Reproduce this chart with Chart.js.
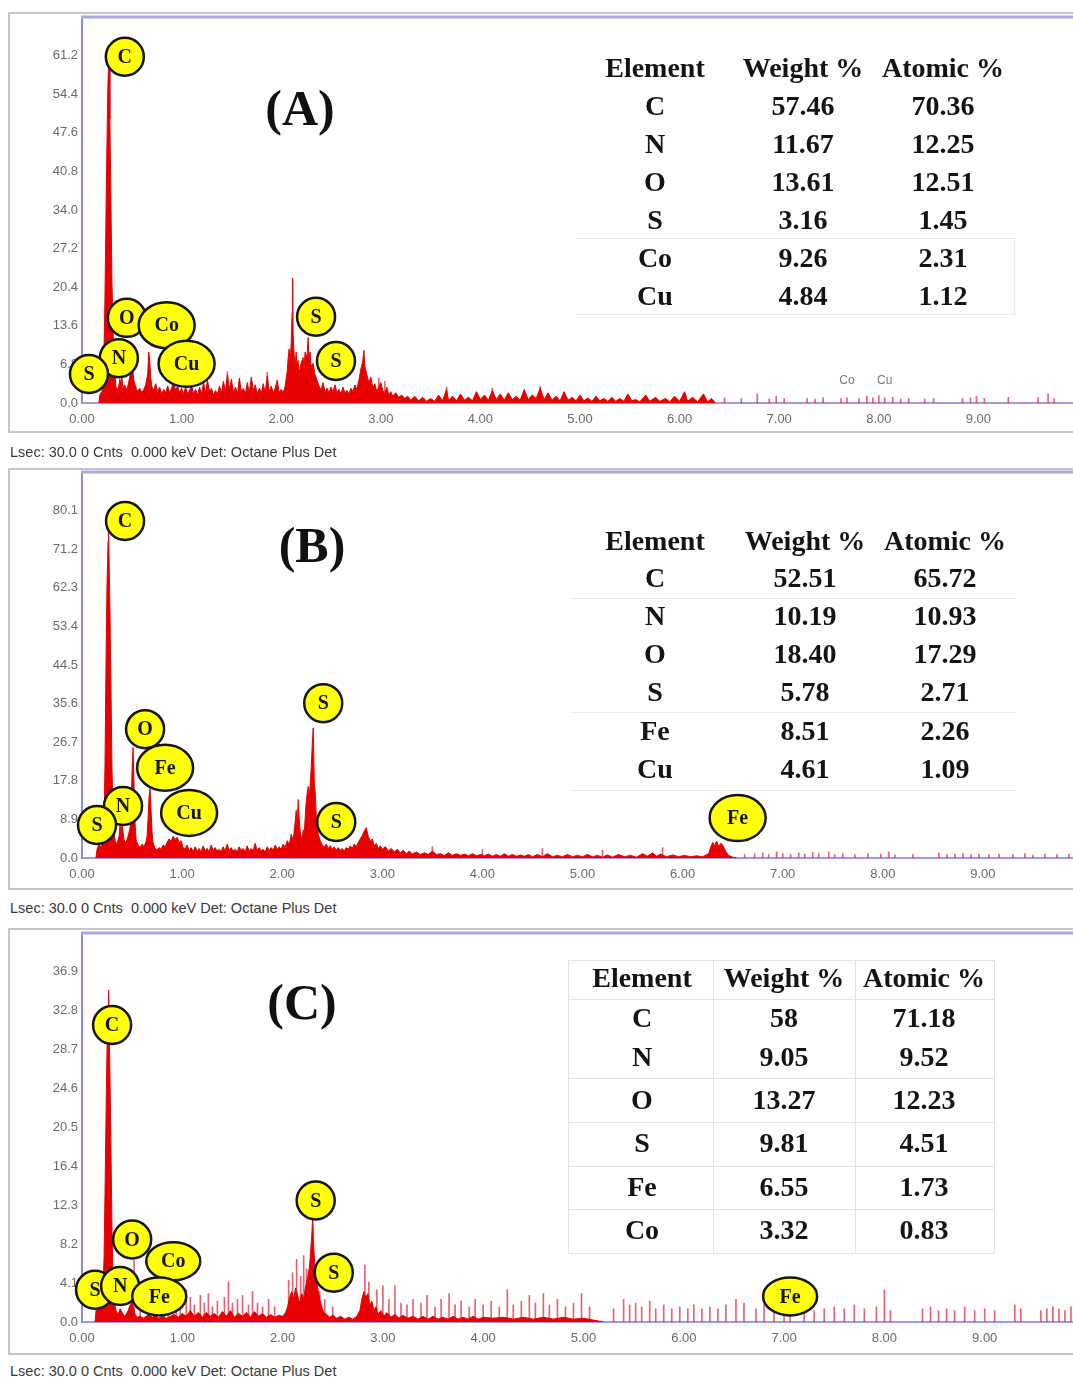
<!DOCTYPE html>
<html>
<head>
<meta charset="utf-8">
<script src="https://cdn.jsdelivr.net/npm/chart.js@4.4.0/dist/chart.umd.min.js"></script>
<style>
  html, body { margin: 0; padding: 0; background: #fff; }
  body { width: 1073px; height: 1381px; overflow: hidden; position: relative; }
  .frame { position: absolute; left: 8px; width: 1090px; border: 2px solid #c6c6c6; background: #fff; box-sizing: border-box; }
  canvas { position: absolute; left: 0; }
  .foot { position: absolute; left: 10px; font: 14.5px "Liberation Sans", Arial, sans-serif; color: #3a3a3a; white-space: pre; transform: translateY(-50%); }
  .title { position: absolute; font: bold 50px "Liberation Serif", serif; color: #111; transform: translate(-50%, -50%); }
  .cell { position: absolute; font: bold 28px "Liberation Serif", serif; color: #141414; transform: translate(-50%, -50%); white-space: nowrap; }
  .hl { position: absolute; height: 1px; background: #ececec; }
  .vl { position: absolute; width: 1px; background: #ececec; }
  .hl.c, .vl.c { background: #e2e2e2; }
</style>
</head>
<body>
<div class="frame" style="top:12px;height:421px"></div>
<div class="frame" style="top:468px;height:422px"></div>
<div class="frame" style="top:928px;height:427px"></div>
<canvas id="chartA"></canvas>
<canvas id="chartB"></canvas>
<canvas id="chartC"></canvas>
<div id="overlay"></div>
<script>
// ---- data ----
const kevTicks = [0, 1, 2, 3, 4, 5, 6, 7, 8, 9];
const countTicksA = [0, 6.8, 13.6, 20.4, 27.2, 34.0, 40.8, 47.6, 54.4, 61.2];
const countTicksB = [0, 8.9, 17.8, 26.7, 35.6, 44.5, 53.4, 62.3, 71.2, 80.1];
const countTicksC = [0, 4.1, 8.2, 12.3, 16.4, 20.5, 24.6, 28.7, 32.8, 36.9];
const countMaxA = 68.0, countMaxB = 89.0, countMaxC = 41.0;

// [keV, counts]
const spectrumA = [
  [0.17,0],[0.18,1.5],[0.20,2.0],[0.21,3.5],[0.22,8],[0.23,18],[0.24,32],[0.25,45],[0.26,56],[0.27,61.5],[0.275,60],
  [0.28,50],[0.29,36],[0.30,22],[0.31,14],[0.32,8],[0.33,5],[0.34,3],[0.35,2.2],[0.37,3.0],[0.38,4.2],[0.39,3.4],
  [0.40,4.5],[0.41,2.6],[0.43,3.2],[0.45,2.2],[0.47,3.8],[0.49,5.5],[0.50,7.2],[0.51,6.0],[0.52,4.0],[0.54,2.8],
  [0.56,2.0],[0.58,2.6],[0.60,1.8],[0.62,2.4],[0.64,3.2],[0.66,5.2],[0.67,9.0],[0.68,7.5],[0.69,4.6],[0.70,3.0],
  [0.72,2.2],[0.74,3.4],[0.76,2.0],[0.78,2.8],[0.80,1.6],[0.82,2.4],[0.84,1.8],[0.86,3.0],[0.88,1.8],[0.90,2.6],
  [0.92,3.8],[0.94,2.2],[0.96,3.0],[0.98,1.8],[1.00,2.6],[1.02,1.6],[1.04,2.8],[1.06,1.6],[1.08,2.2],[1.10,3.2],
  [1.12,1.6],[1.14,2.4],[1.16,1.4],[1.18,2.8],[1.20,1.6],[1.22,3.6],[1.24,1.8],[1.26,4.0],[1.28,2.0],[1.30,2.6],
  [1.32,1.4],[1.34,2.2],[1.36,1.6],[1.38,3.0],[1.40,1.8],[1.42,3.8],[1.44,2.0],[1.46,5.0],[1.48,2.4],[1.50,4.2],
  [1.52,1.8],[1.54,2.8],[1.56,1.6],[1.58,4.4],[1.60,2.0],[1.62,2.6],[1.64,1.6],[1.66,3.6],[1.68,1.8],[1.70,4.6],
  [1.72,2.2],[1.74,3.2],[1.76,1.6],[1.78,2.6],[1.80,1.8],[1.82,3.4],[1.84,1.8],[1.86,4.8],[1.88,2.0],[1.90,3.0],
  [1.92,1.8],[1.94,2.6],[1.96,4.0],[1.98,1.8],[2.00,2.4],[2.02,1.8],[2.04,3.0],[2.06,5.6],[2.07,8.0],[2.08,9.5],
  [2.09,7.0],[2.10,10.5],[2.11,16.0],[2.115,22.0],[2.12,12.0],[2.13,8.5],[2.14,6.5],[2.15,9.0],[2.16,6.0],[2.17,7.5],
  [2.18,5.2],[2.20,7.0],[2.22,8.0],[2.23,6.0],[2.24,9.0],[2.26,8.0],[2.27,11.5],[2.28,7.5],[2.29,9.0],[2.30,6.5],
  [2.32,7.0],[2.34,5.0],[2.36,4.0],[2.38,3.0],[2.40,2.2],[2.42,3.6],[2.44,2.0],[2.46,2.6],[2.48,1.8],[2.50,2.8],
  [2.52,2.0],[2.54,3.2],[2.56,1.8],[2.58,2.4],[2.60,1.6],[2.62,2.8],[2.64,1.8],[2.66,2.2],[2.68,1.6],[2.70,2.6],
  [2.72,2.0],[2.74,3.2],[2.76,2.4],[2.78,4.0],[2.80,6.0],[2.82,7.5],[2.83,9.3],[2.84,6.5],[2.86,5.0],[2.88,3.6],
  [2.90,4.6],[2.92,2.6],[2.94,3.4],[2.96,2.0],[2.98,2.8],[3.00,3.6],[3.02,2.2],[3.04,1.6],[3.06,2.8],[3.08,1.4],
  [3.10,2.0],[3.12,1.2],[3.15,1.8],[3.18,1.0],[3.21,1.4],[3.24,0.8],[3.27,1.2],[3.30,0.5],[3.34,1.2],[3.38,0.4],
  [3.42,1.0],[3.46,0.3],[3.50,0.8],[3.54,0.3],[3.58,1.4],[3.62,0.4],[3.66,2.4],[3.68,0.5],[3.72,1.2],[3.76,0.4],
  [3.80,1.6],[3.84,0.5],[3.88,1.0],[3.92,0.4],[3.96,2.0],[4.00,0.6],[4.04,1.4],[4.08,0.5],[4.12,2.2],[4.16,0.6],
  [4.20,1.6],[4.24,0.5],[4.28,1.8],[4.32,0.6],[4.36,1.2],[4.40,0.5],[4.44,2.4],[4.48,0.6],[4.52,1.4],[4.56,0.8],
  [4.60,2.6],[4.64,0.6],[4.68,1.8],[4.72,0.5],[4.76,1.2],[4.80,0.4],[4.84,2.0],[4.88,0.5],[4.92,1.0],[4.96,0.4],
  [5.00,1.4],[5.04,0.4],[5.08,0.9],[5.12,0.3],[5.16,1.2],[5.20,0.4],[5.24,0.8],[5.28,0.3],[5.32,1.0],[5.36,0.3],
  [5.40,0.8],[5.44,0.3],[5.48,1.6],[5.52,0.4],[5.56,0.6],[5.60,0.2],[5.66,1.4],[5.70,0.3],[5.76,1.0],[5.80,0.3],
  [5.86,0.8],[5.90,0.2],[5.95,1.2],[6.00,0.3],[6.05,2.0],[6.08,0.3],[6.13,1.0],[6.18,0.2],[6.24,1.6],[6.28,0.2],
  [6.32,0.8],[6.36,0]
];
const spikesA = [
  [1.46,5.5],[1.86,5.4],[2.98,4.4],[3.04,3.8],[3.66,2.8],[4.12,2.6],[4.60,3.0],[6.45,0.9],[6.62,0.8],[6.78,1.6],
  [6.90,0.7],[6.97,1.2],[7.05,0.8],[7.28,0.8],[7.36,0.7],[7.44,0.9],[7.62,0.8],[7.68,0.9],[7.80,0.8],[7.88,1.2],
  [7.94,0.9],[8.00,1.3],[8.06,0.9],[8.14,1.0],[8.22,0.7],[8.30,0.8],[8.46,0.7],[8.55,0.8],[8.84,0.8],[8.92,0.9],
  [8.98,1.2],[9.06,0.8],[9.30,1.0],[9.60,0.9],[9.70,1.6],[9.76,0.8]
];

const spectrumB = [
  [0.14,0],[0.15,2.0],[0.17,3.2],[0.19,2.4],[0.21,4.0],[0.22,8],[0.23,22],[0.24,45],[0.25,63],[0.26,73],[0.265,76],
  [0.27,70],[0.28,56],[0.29,38],[0.30,20],[0.31,11],[0.32,6],[0.33,4],[0.35,3.2],[0.37,5.0],[0.38,7.5],[0.39,5.5],
  [0.40,8.0],[0.41,6.0],[0.42,4.2],[0.44,3.5],[0.46,5.0],[0.48,7.0],[0.49,12],[0.50,20],[0.51,25.5],[0.52,17],
  [0.53,8],[0.54,4.2],[0.56,3.0],[0.58,2.4],[0.60,3.2],[0.62,2.6],[0.64,3.8],[0.65,5],[0.66,9],[0.67,14],[0.68,16],
  [0.69,11],[0.70,6],[0.71,3.5],[0.73,2.2],[0.75,1.8],[0.77,2.4],[0.79,2.0],[0.81,3.0],[0.83,2.6],[0.85,3.6],
  [0.87,4.4],[0.89,3.8],[0.91,5.0],[0.93,4.2],[0.95,4.8],[0.97,3.6],[0.99,4.0],[1.01,2.4],[1.03,2.0],[1.05,3.0],
  [1.07,1.6],[1.09,2.4],[1.11,1.4],[1.13,2.6],[1.15,1.6],[1.17,2.2],[1.19,1.4],[1.21,2.8],[1.23,1.6],[1.25,2.2],
  [1.27,1.4],[1.29,3.0],[1.31,1.8],[1.33,2.4],[1.35,1.6],[1.37,2.0],[1.39,1.4],[1.41,2.6],[1.43,1.6],[1.45,3.2],
  [1.47,1.8],[1.49,2.4],[1.51,1.6],[1.53,2.0],[1.55,1.4],[1.57,2.6],[1.59,1.8],[1.61,2.2],[1.63,1.4],[1.65,2.8],
  [1.67,1.6],[1.69,2.2],[1.71,1.6],[1.73,3.4],[1.75,1.8],[1.77,2.4],[1.79,1.6],[1.81,2.0],[1.83,1.4],[1.85,2.6],
  [1.87,1.8],[1.89,2.4],[1.91,1.8],[1.93,3.0],[1.95,2.0],[1.97,2.6],[1.99,2.0],[2.01,3.2],[2.03,2.4],[2.05,4.0],
  [2.07,3.0],[2.09,5.5],[2.11,4.0],[2.13,8.5],[2.14,11],[2.15,7],[2.16,13.5],[2.17,9],[2.18,6],[2.19,5],[2.20,4.2],
  [2.21,6.5],[2.22,5.5],[2.23,9.5],[2.24,13],[2.25,15],[2.26,16.5],[2.27,14],[2.28,17],[2.29,21],[2.30,26],[2.31,30],
  [2.32,18],[2.33,15],[2.34,10],[2.35,8],[2.36,5.5],[2.38,4.0],[2.40,3.0],[2.42,2.4],[2.44,3.2],[2.46,2.2],[2.48,2.8],
  [2.50,2.0],[2.52,2.6],[2.54,1.8],[2.56,2.4],[2.58,1.8],[2.60,2.2],[2.62,1.6],[2.64,2.4],[2.66,2.0],[2.68,2.8],
  [2.70,2.2],[2.72,3.2],[2.74,2.6],[2.76,3.6],[2.78,4.4],[2.80,5.2],[2.82,6.2],[2.84,7.0],[2.86,5.0],[2.88,3.8],
  [2.90,4.4],[2.92,2.8],[2.94,3.4],[2.96,2.2],[2.98,2.8],[3.00,2.0],[3.03,2.6],[3.06,1.6],[3.09,2.2],[3.12,1.4],
  [3.15,2.0],[3.18,1.2],[3.21,1.8],[3.24,1.0],[3.27,1.6],[3.30,0.9],[3.34,1.4],[3.38,0.8],[3.42,1.2],[3.46,0.8],
  [3.50,1.6],[3.54,0.8],[3.58,1.0],[3.62,0.6],[3.66,1.2],[3.70,0.6],[3.74,1.0],[3.78,0.6],[3.82,0.9],[3.86,0.5],
  [3.90,1.0],[3.94,0.5],[3.98,0.8],[4.02,0.5],[4.06,0.9],[4.10,0.4],[4.14,0.8],[4.18,0.4],[4.22,1.0],[4.26,0.4],
  [4.30,0.8],[4.34,0.4],[4.38,0.7],[4.42,0.4],[4.46,0.8],[4.50,0.3],[4.55,0.8],[4.60,0.3],[4.65,1.0],[4.70,0.3],
  [4.75,0.6],[4.80,0.3],[4.85,0.8],[4.90,0.3],[4.95,0.6],[5.00,0.3],[5.05,0.8],[5.10,0.3],[5.15,0.6],[5.20,0.2],
  [5.25,0.7],[5.30,0.2],[5.36,0.8],[5.42,0.3],[5.48,0.6],[5.54,0.2],[5.60,1.0],[5.65,0.4],[5.70,1.2],[5.74,0.4],
  [5.78,0.9],[5.84,0.3],[5.90,0.7],[5.96,0.3],[6.02,0.6],[6.08,0.3],[6.14,0.5],[6.20,0.3],[6.26,1.0],[6.28,2.4],
  [6.30,3.6],[6.32,2.8],[6.34,3.9],[6.36,2.6],[6.38,3.4],[6.40,3.0],[6.42,2.0],[6.44,1.2],[6.46,0.6],[6.50,0.2],
  [6.54,0]
];
const spikesB = [
  [3.50,2.6],[4.00,2.0],[4.60,2.2],[5.20,1.8],[5.80,2.4],[6.62,0.8],[6.72,1.0],[6.80,1.2],[6.86,0.8],[6.94,1.4],
  [7.00,1.0],[7.08,0.8],[7.16,1.2],[7.22,0.9],[7.30,1.3],[7.36,1.0],[7.46,1.4],[7.52,0.8],[7.60,1.0],[7.72,0.8],
  [7.85,1.0],[7.98,0.9],[8.06,1.4],[8.12,0.7],[8.30,0.8],[8.56,1.2],[8.64,0.8],[8.72,0.9],[8.80,1.0],[8.88,0.8],
  [8.96,0.9],[9.06,0.8],[9.16,0.9],[9.30,0.8],[9.42,1.0],[9.50,0.7],[9.62,0.9],[9.74,0.8],[9.86,0.9],[9.96,0.8]
];

const spectrumC = [
  [0.13,0],[0.14,1.2],[0.16,1.8],[0.18,1.4],[0.20,2.0],[0.21,3.0],[0.22,7],[0.23,14],[0.24,22],[0.25,29],[0.26,33],
  [0.265,35],[0.27,32],[0.28,25],[0.29,17],[0.30,9],[0.31,4.5],[0.32,2.2],[0.34,1.2],[0.36,0.8],[0.38,1.4],[0.40,1.0],
  [0.42,0.6],[0.44,0.8],[0.46,1.2],[0.48,1.8],[0.50,2.2],[0.51,1.6],[0.53,0.8],[0.55,0.5],[0.58,0.6],[0.61,0.4],
  [0.64,0.6],[0.67,0.8],[0.70,0.5],[0.73,0.7],[0.76,0.4],[0.80,0.6],[0.84,0.4],[0.88,0.6],[0.92,0.8],[0.96,0.5],
  [1.00,0.9],[1.04,0.6],[1.08,1.2],[1.12,0.6],[1.16,1.0],[1.20,0.5],[1.24,1.0],[1.28,0.6],[1.32,0.9],[1.36,0.5],
  [1.40,1.1],[1.44,0.6],[1.48,1.2],[1.52,0.5],[1.56,0.9],[1.60,0.6],[1.64,1.0],[1.68,0.5],[1.72,1.1],[1.76,0.6],
  [1.80,0.9],[1.84,0.5],[1.88,0.8],[1.92,0.5],[1.96,0.7],[2.00,0.6],[2.03,1.0],[2.05,1.6],[2.07,2.6],[2.09,3.2],
  [2.11,2.4],[2.13,3.6],[2.15,2.8],[2.17,2.0],[2.19,3.0],[2.21,2.4],[2.23,3.8],[2.25,4.6],[2.27,6.0],[2.28,7.5],
  [2.29,9.0],[2.30,11.0],[2.31,8.0],[2.32,6.0],[2.33,4.8],[2.35,3.6],[2.37,2.4],[2.39,1.6],[2.41,1.0],[2.44,0.8],
  [2.47,0.5],[2.50,0.7],[2.54,0.4],[2.58,0.6],[2.62,0.3],[2.66,0.5],[2.70,0.3],[2.74,0.6],[2.77,1.2],[2.79,2.4],
  [2.81,3.2],[2.83,2.6],[2.85,3.0],[2.87,1.8],[2.89,2.2],[2.91,1.2],[2.93,1.6],[2.95,0.8],[2.98,1.2],[3.01,0.6],
  [3.04,1.0],[3.08,0.5],[3.12,0.8],[3.16,0.4],[3.20,0.7],[3.25,0.4],[3.30,0.6],[3.35,0.3],[3.40,0.6],[3.45,0.3],
  [3.50,0.6],[3.55,0.3],[3.60,0.5],[3.65,0.3],[3.70,0.6],[3.75,0.3],[3.80,0.5],[3.85,0.3],[3.90,0.6],[3.95,0.3],
  [4.00,0.5],[4.10,0.4],[4.20,0.5],[4.30,0.3],[4.40,0.5],[4.50,0.3],[4.60,0.5],[4.70,0.3],[4.80,0.5],[4.90,0.3],
  [5.00,0.4],[5.10,0.2],[5.20,0]
];
const spikesC = [
  [0.52,6.5],[0.58,2.2],[0.66,1.8],[0.74,2.4],[0.82,1.6],[0.86,2.0],[0.94,1.8],[0.98,2.6],[1.04,3.4],[1.08,2.6],
  [1.12,1.8],[1.18,2.8],[1.22,2.0],[1.26,3.0],[1.30,1.6],[1.35,2.2],[1.42,2.6],[1.46,4.2],[1.50,2.0],[1.55,2.4],
  [1.60,2.8],[1.66,1.8],[1.70,3.2],[1.75,2.0],[1.80,1.6],[1.86,2.4],[1.92,1.6],[2.06,4.4],[2.10,5.2],[2.14,6.6],
  [2.18,4.8],[2.21,7.0],[2.24,5.6],[2.37,3.2],[2.42,2.4],[2.50,1.6],[2.82,6.0],[2.86,4.2],[2.94,3.4],[3.00,3.8],
  [3.06,2.4],[3.12,3.8],[3.18,2.0],[3.24,1.8],[3.30,2.4],[3.38,2.0],[3.44,2.8],[3.52,1.6],[3.58,2.4],[3.66,3.0],
  [3.72,1.8],[3.78,2.2],[3.86,1.6],[3.92,2.4],[4.00,1.8],[4.08,2.2],[4.16,1.6],[4.24,3.4],[4.30,1.8],[4.38,2.2],
  [4.46,2.8],[4.52,2.0],[4.60,3.0],[4.66,1.8],[4.74,2.4],[4.82,1.6],[4.90,2.0],[4.98,3.0],[5.06,1.6],[5.30,1.4],
  [5.40,2.4],[5.46,1.8],[5.52,2.0],[5.58,1.6],[5.66,2.2],[5.72,1.4],[5.80,1.8],[5.88,1.4],[5.96,1.6],[6.04,1.4],
  [6.10,1.8],[6.18,1.4],[6.26,1.6],[6.34,1.4],[6.42,1.8],[6.52,2.4],[6.60,2.0],[6.72,1.4],[6.80,1.8],[6.90,1.4],
  [7.00,1.2],[7.06,1.0],[7.20,1.6],[7.30,1.2],[7.40,1.4],[7.50,1.6],[7.60,1.4],[7.70,1.8],[7.80,1.4],[7.92,1.6],
  [8.00,3.4],[8.06,1.2],[8.38,1.4],[8.46,1.6],[8.54,1.2],[8.62,1.4],[8.70,1.2],[8.80,1.6],[8.90,1.2],[9.00,1.4],
  [9.10,1.2],[9.30,1.8],[9.36,1.4],[9.56,1.2],[9.62,1.4],[9.68,1.6],[9.74,1.4],[9.80,1.2],[9.86,1.6],[9.92,1.2]
];

// peak labels: [element, keV, counts]
const peakLabelsA = [['C',0.43,61.0],['O',0.45,15.0],['Co',0.85,13.7],['N',0.37,7.9],['Cu',1.05,6.9],['S',0.07,5.1],['S',2.35,15.2],['S',2.55,7.4]];
const peakLabelsB = [['C',0.43,77.7],['O',0.63,29.7],['Fe',0.83,20.8],['N',0.41,12.0],['Cu',1.07,10.4],['S',0.15,7.6],['S',2.41,35.7],['S',2.54,8.3],['Fe',6.55,9.2]];
const peakLabelsC = [['C',0.30,31.3],['O',0.50,8.7],['Co',0.91,6.4],['S',0.13,3.4],['N',0.38,3.8],['Fe',0.77,2.7],['S',2.33,12.8],['S',2.51,5.2],['Fe',7.06,2.7]];
const lineMarksA = [['Co',7.68,3.9],['Cu',8.06,3.9]];

const tableHeader = ['Element', 'Weight %', 'Atomic %'];
const elementsA = ['C','N','O','S','Co','Cu'];
const weightA = ['57.46','11.67','13.61','3.16','9.26','4.84'];
const atomicA = ['70.36','12.25','12.51','1.45','2.31','1.12'];
const elementsB = ['C','N','O','S','Fe','Cu'];
const weightB = ['52.51','10.19','18.40','5.78','8.51','4.61'];
const atomicB = ['65.72','10.93','17.29','2.71','2.26','1.09'];
const elementsC = ['C','N','O','S','Fe','Co'];
const weightC = ['58','9.05','13.27','9.81','6.55','3.32'];
const atomicC = ['71.18','9.52','12.23','4.51','1.73','0.83'];

const footText = 'Lsec: 30.0 0 Cnts  0.000 keV Det: Octane Plus Det';

// ---- plugin: frame top line, peak bubbles, small line marks ----
const edsPlugin = {
  id: 'eds',
  afterDraw(chart, args, opts) {
    const { ctx, chartArea, scales: { x, y } } = chart;
    ctx.save();
    ctx.strokeStyle = '#a9a9e0';
    ctx.lineWidth = 3;
    ctx.beginPath();
    ctx.moveTo(chartArea.left - 1, chartArea.top);
    ctx.lineTo(chartArea.right, chartArea.top);
    ctx.stroke();

    (opts.marks || []).forEach(([t, kev, cnt]) => {
      ctx.fillStyle = '#777';
      ctx.font = '12px "Liberation Sans"';
      ctx.textAlign = 'center';
      ctx.textBaseline = 'middle';
      ctx.fillText(t, x.getPixelForValue(kev), y.getPixelForValue(cnt));
    });

    (opts.labels || []).forEach(([t, kev, cnt]) => {
      const px = x.getPixelForValue(kev), py = y.getPixelForValue(cnt);
      const rx = t.length > 1 ? opts.wide[0] : opts.round;
      const ry = t.length > 1 ? opts.wide[1] : opts.round;
      ctx.beginPath();
      ctx.ellipse(px, py, rx, ry, 0, 0, Math.PI * 2);
      ctx.fillStyle = '#ffff0a';
      ctx.fill();
      ctx.lineWidth = 2.5;
      ctx.strokeStyle = '#161616';
      ctx.stroke();
      ctx.fillStyle = '#161616';
      ctx.font = 'bold 20px "Liberation Serif"';
      ctx.textAlign = 'center';
      ctx.textBaseline = 'middle';
      ctx.fillText(t, px, py + 1);
    });
    ctx.restore();
  }
};

const CW = 1100, CH = 440;
const tickFont = { family: 'Liberation Sans', size: 13 };

function buildPanel(id, g, spectrum, spikes, yMax, yTicks, labels, marks, bubble) {
  const cv = document.getElementById(id);
  cv.width = CW; cv.height = CH;
  cv.style.top = g.top + 'px';
  return new Chart(cv, {
    type: 'line',
    data: {
      datasets: [
        {
          type: 'bar',
          data: spikes.map(([x, y]) => ({ x, y })),
          backgroundColor: 'rgba(228,30,50,0.7)',
          borderWidth: 0,
          barThickness: 1,
          order: 2
        },
        {
          type: 'line',
          data: spectrum.map(([x, y]) => ({ x, y })),
          borderColor: '#e60000',
          backgroundColor: '#e80000',
          borderWidth: 1,
          fill: 'origin',
          pointRadius: 0,
          tension: 0,
          order: 1
        }
      ]
    },
    options: {
      responsive: false,
      animation: false,
      devicePixelRatio: 1,
      layout: {
        autoPadding: false,
        padding: { left: 0, top: g.plotTop - g.top, right: CW - g.plotRight, bottom: CH - (g.plotBottom - g.top) - 30 }
      },
      plugins: {
        legend: { display: false },
        tooltip: { enabled: false },
        eds: { labels, marks, round: bubble.round, wide: bubble.wide }
      },
      scales: {
        x: {
          type: 'linear', min: 0, max: 10, offset: false,
          grid: { display: false, drawTicks: false },
          border: { display: true, color: '#9c9ce4', width: 2 },
          afterBuildTicks: s => { s.ticks = kevTicks.map(v => ({ value: v })); },
          afterFit: s => { s.height = 30; },
          ticks: { callback: v => v.toFixed(2), color: '#6a6a6a', font: tickFont, padding: 9, maxRotation: 0, autoSkip: false }
        },
        y: {
          type: 'linear', min: 0, max: yMax,
          grid: { display: false, drawTicks: false },
          border: { display: true, color: '#8c8ce8', width: 2 },
          afterBuildTicks: s => { s.ticks = yTicks.map(v => ({ value: v })); },
          afterFit: s => { s.width = 82; },
          ticks: { callback: v => v.toFixed(1), color: '#6a6a6a', font: tickFont, padding: 4, autoSkip: false }
        }
      }
    },
    plugins: [edsPlugin]
  });
}

buildPanel('chartA', { top: 0, plotTop: 17, plotBottom: 403, plotRight: 1078 },
  spectrumA, spikesA, countMaxA, countTicksA, peakLabelsA, lineMarksA, { round: 19, wide: [28, 23] });
buildPanel('chartB', { top: 456, plotTop: 472, plotBottom: 858, plotRight: 1083 },
  spectrumB, spikesB, countMaxB, countTicksB, peakLabelsB, [], { round: 19, wide: [28, 23] });
buildPanel('chartC', { top: 916, plotTop: 933, plotBottom: 1322, plotRight: 1085 },
  spectrumC, spikesC, countMaxC, countTicksC, peakLabelsC, [], { round: 19, wide: [27, 19] });

// ---- overlay text: titles, tables, footers ----
const overlay = document.getElementById('overlay');
function put(cls, text, x, y) {
  const d = document.createElement('div');
  d.className = cls;
  d.textContent = text;
  d.style.left = x + 'px';
  d.style.top = y + 'px';
  overlay.appendChild(d);
}
function rule(cls, x, y, len) {
  const d = document.createElement('div');
  d.className = cls;
  d.style.left = x + 'px';
  d.style.top = y + 'px';
  if (cls.startsWith('hl')) d.style.width = len + 'px'; else d.style.height = len + 'px';
  overlay.appendChild(d);
}
function table(cols, rows, elems, weight, atomic) {
  tableHeader.forEach((h, i) => put('cell', h, cols[i], rows[0]));
  elems.forEach((e, r) => {
    put('cell', e, cols[0], rows[r + 1]);
    put('cell', weight[r], cols[1], rows[r + 1]);
    put('cell', atomic[r], cols[2], rows[r + 1]);
  });
}

put('title', '(A)', 300, 108);
put('title', '(B)', 312, 545);
put('title', '(C)', 302, 1002);

rule('hl', 576, 238, 440); rule('hl', 576, 314, 440); rule('vl', 1014, 240, 74);
table([655, 803, 943], [68, 106, 144, 182, 220, 258, 296], elementsA, weightA, atomicA);

rule('hl', 570, 598, 446); rule('hl', 570, 712, 446); rule('hl', 570, 790, 446);
table([655, 805, 945], [541, 578, 616, 654, 692, 731, 769], elementsB, weightB, atomicB);

[960, 999, 1078, 1122, 1166, 1209, 1253].forEach(yy => rule('hl c', 568, yy, 426));
[568, 713, 855, 994].forEach(xx => rule('vl c', xx, 960, 293));
table([642, 784, 924], [978, 1018, 1057, 1100, 1143, 1187, 1230], elementsC, weightC, atomicC);

put('foot', footText, 10, 452);
put('foot', footText, 10, 908);
put('foot', footText, 10, 1371);
</script>
</body>
</html>
